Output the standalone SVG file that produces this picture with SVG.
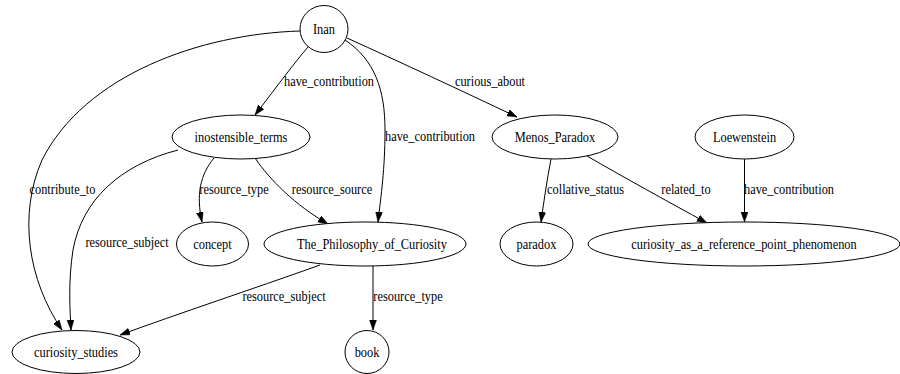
<svg xmlns="http://www.w3.org/2000/svg" width="900" height="374" viewBox="0 0 900 374">
<style>
.n ellipse{fill:#fff;stroke:#000;stroke-width:1}
.t{font-family:'Liberation Serif','Times New Roman','DejaVu Serif',serif;font-size:14px;fill:#000;text-anchor:middle}
.e path{fill:none;stroke:#000;stroke-width:1;marker-end:url(#ah)}
</style>
<defs>
<marker id="ah" markerUnits="userSpaceOnUse" markerWidth="10" markerHeight="8" refX="10" refY="3.5" orient="auto"><path d="M0,0 L10,3.5 L0,7 z" fill="#000" stroke="#000" stroke-width="0.5"/></marker>
</defs>
<rect width="900" height="374" fill="#fff"/>
<g id="edges" class="e">
<path d="M308,47 C295,62 278,85 255,115"/>
<path d="M300,31 C200,34 85,75 42,160 C18,215 28,280 62,330"/>
<path d="M345,40 C375,60 385,90 385,130 C385,170 381,195 378,222"/>
<path d="M347,38 C400,62 460,90 517,117"/>
<path d="M214,158 C200,175 196,195 202,222"/>
<path d="M255,158 C270,180 295,205 328,224"/>
<path d="M178,150 C120,165 82,200 73,250 C68,282 70,310 71,330"/>
<path d="M320,265 C250,290 180,313 120,335"/>
<path d="M373,266 L373,330"/>
<path d="M551,159 C547,180 544,200 541,222"/>
<path d="M587,156 C625,178 665,200 707,223"/>
<path d="M744.5,159 L744.5,222"/>
<g class="t" font-family="Liberation Serif, serif">
<text transform="translate(329,86) scale(0.885,1)">have_contribution</text>
<text transform="translate(430,141) scale(0.885,1)">have_contribution</text>
<text transform="translate(490,86) scale(0.885,1)">curious_about</text>
<text transform="translate(62.5,194) scale(0.885,1)">contribute_to</text>
<text transform="translate(234,194) scale(0.885,1)">resource_type</text>
<text transform="translate(332,194) scale(0.885,1)">resource_source</text>
<text transform="translate(127,247) scale(0.885,1)">resource_subject</text>
<text transform="translate(284,301) scale(0.885,1)">resource_subject</text>
<text transform="translate(408,301) scale(0.885,1)">resource_type</text>
<text transform="translate(585.5,194) scale(0.885,1)">collative_status</text>
<text transform="translate(686,194) scale(0.885,1)">related_to</text>
<text transform="translate(789,194) scale(0.885,1)">have_contribution</text>
</g>
</g>
<g id="Inan" class="n"><ellipse cx="324" cy="29" rx="24" ry="23.5"/><text class="t" transform="translate(324,33.5) scale(0.885,1)">Inan</text></g>
<g id="inostensible_terms" class="n"><ellipse cx="241" cy="137" rx="69" ry="22"/><text class="t" transform="translate(241,141.5) scale(0.885,1)">inostensible_terms</text></g>
<g id="Menos_Paradox" class="n"><ellipse cx="555" cy="137" rx="63" ry="22"/><text class="t" transform="translate(555,141.5) scale(0.885,1)">Menos_Paradox</text></g>
<g id="Loewenstein" class="n"><ellipse cx="744.5" cy="137" rx="49.5" ry="22"/><text class="t" transform="translate(744.5,141.5) scale(0.885,1)">Loewenstein</text></g>
<g id="concept" class="n"><ellipse cx="212.5" cy="244" rx="36" ry="22"/><text class="t" transform="translate(212.5,248.5) scale(0.885,1)">concept</text></g>
<g id="The_Philosophy_of_Curiosity" class="n"><ellipse cx="365" cy="244" rx="101" ry="22"/><text class="t" transform="translate(372,248.5) scale(0.885,1)">The_Philosophy_of_Curiosity</text></g>
<g id="paradox" class="n"><ellipse cx="536.5" cy="244" rx="36.5" ry="22"/><text class="t" transform="translate(536.5,248.5) scale(0.885,1)">paradox</text></g>
<g id="curiosity_as_a_reference_point_phenomenon" class="n"><ellipse cx="744" cy="244" rx="156" ry="22"/><text class="t" transform="translate(744,248.5) scale(0.885,1)">curiosity_as_a_reference_point_phenomenon</text></g>
<g id="curiosity_studies" class="n"><ellipse cx="76" cy="352" rx="64" ry="21.5"/><text class="t" transform="translate(76,356.5) scale(0.885,1)">curiosity_studies</text></g>
<g id="book" class="n"><ellipse cx="367" cy="352" rx="22" ry="21.5"/><text class="t" transform="translate(367,356.5) scale(0.885,1)">book</text></g>
</svg>
